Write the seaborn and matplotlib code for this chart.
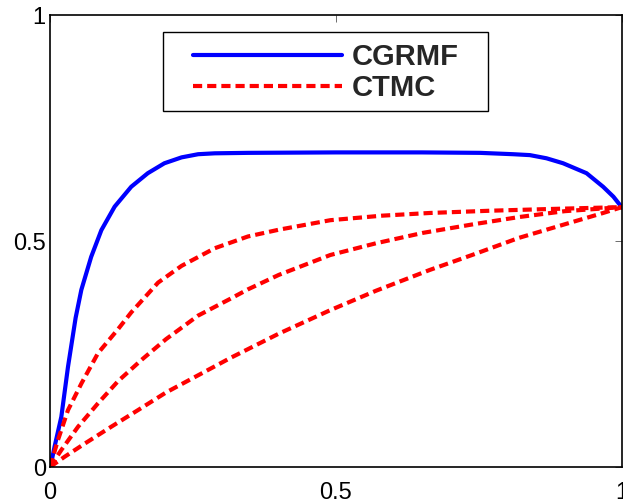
import numpy as np
import pandas as pd
import seaborn as sns
import matplotlib
matplotlib.use("Agg")
import matplotlib.pyplot as plt
from matplotlib.patches import Rectangle

# values
cgrmf_x = [0, 0.002, 0.008, 0.0198, 0.0315, 0.0448, 0.0548, 0.072, 0.0898, 0.113, 0.142, 0.171,
           0.2, 0.23, 0.259, 0.288, 0.346, 0.5, 0.65, 0.752, 0.81, 0.839, 0.868, 0.897,
           0.938, 0.967, 0.985, 1.0]
cgrmf_y = [0, 0.008, 0.045, 0.111, 0.222, 0.33, 0.392, 0.465, 0.524, 0.576, 0.620, 0.650,
           0.672, 0.685, 0.692, 0.694, 0.695, 0.696, 0.696, 0.695, 0.692, 0.69, 0.683, 0.672,
           0.65, 0.62, 0.598, 0.574]

ctmc1_x = [0, 0.014, 0.0315, 0.055, 0.084, 0.119, 0.142, 0.189, 0.23, 0.288, 0.346, 0.4,
           0.49, 0.58, 0.664, 0.77, 0.88, 1.0]
ctmc1_y = [0, 0.06, 0.126, 0.185, 0.252, 0.305, 0.342, 0.408, 0.445, 0.484, 0.51, 0.525,
           0.546, 0.556, 0.562, 0.567, 0.571, 0.575]

ctmc2_x = [0, 0.02, 0.049, 0.084, 0.119, 0.16, 0.203, 0.259, 0.315, 0.346, 0.4, 0.49,
           0.57, 0.652, 0.74, 0.82, 0.9, 1.0]
ctmc2_y = [0, 0.038, 0.089, 0.141, 0.19, 0.237, 0.283, 0.335, 0.372, 0.393, 0.425, 0.469,
           0.495, 0.518, 0.537, 0.553, 0.566, 0.575]

ctmc3_x = [0, 0.026, 0.061, 0.107, 0.154, 0.203, 0.265, 0.315, 0.4, 0.49, 0.57, 0.664,
           0.74, 0.82, 0.9, 0.967, 1.0]
ctmc3_y = [0, 0.023, 0.052, 0.089, 0.126, 0.165, 0.207, 0.241, 0.295, 0.347, 0.39, 0.436,
           0.47, 0.507, 0.537, 0.562, 0.575]

ticks = [0, 0.5, 1]
tick_labels = ["0", "0.5", "1"]

sns.set_style("white")
plt.rcParams['font.family'] = ['Liberation Sans', 'DejaVu Sans']

fig = plt.figure(figsize=(6.23, 5), dpi=100)
ax = fig.add_axes([50/623, 33/500, 572/623, 452/500])

sns.lineplot(x=cgrmf_x, y=cgrmf_y, ax=ax, color=(0, 0, 1), linewidth=3, sort=False, label="CGRMF")
red_curves = [(ctmc1_x, ctmc1_y), (ctmc2_x, ctmc2_y), (ctmc3_x, ctmc3_y)]
for i, (cx, cy) in enumerate(red_curves):
    sns.lineplot(x=cx, y=cy, ax=ax, color=(1, 0, 0), linewidth=3, sort=False,
                 label="CTMC" if i == 0 else None)
for line in ax.lines[1:]:
    line.set_dashes((2.2, 1.2))

ax.set_xlim(0, 1)
ax.set_ylim(0, 1)
ax.set_xticks(ticks)
ax.set_xticklabels(tick_labels)
ax.set_yticks(ticks)
ax.set_yticklabels(tick_labels)
for s in ax.spines.values():
    s.set_visible(True)
    s.set_color("black")
    s.set_linewidth(1.2)
ax.tick_params(direction="in", length=5, width=0.6, colors="#555555", labelcolor="black",
               labelsize=17, top=True, right=True)
ax.tick_params(axis="x", pad=11)
ax.tick_params(axis="y", pad=3)

# legend box (MATLAB style: wide padding left/right)
ax.add_patch(Rectangle((113/572, 356/452), 325/572, 79/452, transform=ax.transAxes,
                       facecolor="white", edgecolor="black", linewidth=1.0, zorder=4))
leg = ax.legend(loc="center left", bbox_to_anchor=(143/572, 394.5/452), borderaxespad=0,
                frameon=False, prop={"weight": "bold", "size": 21}, handlelength=5.1,
                handletextpad=0.35, labelspacing=0.12, borderpad=0)
leg.set_zorder(5)

fig.savefig("out.png", dpi=100)
